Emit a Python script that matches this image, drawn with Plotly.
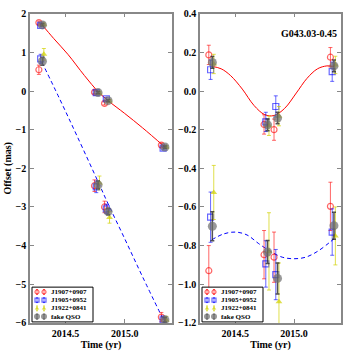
import plotly.graph_objects as go

# epochs (per calibrator, slightly staggered for clarity)
t_red = [2014.275, 2014.745, 2014.83, 2015.31]
t_blue = [2014.29, 2014.76, 2014.845, 2015.325]
t_yel = [2014.317, 2014.787, 2014.872, 2015.352]
t_qso = [2014.305, 2014.775, 2014.86, 2015.34]

# left panel: offsets (mas) for the two coordinates
left_red = [1.77, -0.03, -0.32, -1.40, 0.55, -2.45, -3.00, -5.85]
left_red_err = [0.04, 0.04, 0.04, 0.05, 0.12, 0.15, 0.15, 0.12]
left_blue = [1.70, -0.04, -0.20, -1.48, 0.83, -2.48, -3.05, -5.92]
left_blue_err = [0.04, 0.04, 0.04, 0.04, 0.12, 0.15, 0.12, 0.10]
left_yel = [1.72, -0.05, -0.26, -1.45, 0.95, -2.38, -3.27, -5.93]
left_yel_err = [0.04, 0.04, 0.04, 0.04, 0.15, 0.18, 0.15, 0.10]
left_qso = [1.71, -0.04, -0.25, -1.45, 0.77, -2.43, -3.12, -5.92]
left_qso_err = [0.03, 0.03, 0.03, 0.03, 0.10, 0.10, 0.08, 0.06]

# right panel: parallax-only offsets (mas)
right_red = [0.187, -0.173, -0.20, 0.175, -0.93, -0.847, -0.86, -0.597]
right_red_err = [0.05, 0.05, 0.055, 0.05, 0.13, 0.125, 0.13, 0.125]
right_blue = [0.11, -0.16, -0.08, 0.10, -0.653, -0.895, -0.95, -0.73]
right_blue_err = [0.05, 0.05, 0.055, 0.05, 0.13, 0.12, 0.13, 0.12]
right_yel = [0.14, -0.18, -0.13, 0.135, -0.525, -0.83, -1.09, -0.75]
right_yel_err = [0.05, 0.05, 0.05, 0.045, 0.14, 0.20, 0.20, 0.15]
right_qso = [0.148, -0.175, -0.14, 0.13, -0.70, -0.833, -0.97, -0.697]
right_qso_err = [0.03, 0.03, 0.03, 0.03, 0.075, 0.06, 0.08, 0.07]

# fitted model curves
fit_t_a = [2014.30, 2014.40, 2014.52, 2014.66, 2014.78, 2014.86, 2015.00, 2015.15, 2015.34]
fit_left_a = [1.72, 1.36, 0.95, 0.40, -0.03, -0.25, -0.58, -0.95, -1.45]
fit_t_b = [2014.30, 2014.45, 2014.60, 2014.78, 2014.86, 2015.00, 2015.15, 2015.34]
fit_left_b = [0.75, -0.20, -1.18, -2.38, -2.92, -3.82, -4.80, -6.00]
fit_t_ra = [2014.30, 2014.38, 2014.46, 2014.56, 2014.66, 2014.75, 2014.83, 2014.92,
            2015.02, 2015.11, 2015.20, 2015.28, 2015.34]
fit_right_a = [0.128, 0.115, 0.08, 0.01, -0.075, -0.122, -0.127, -0.09, -0.01, 0.065,
               0.115, 0.13, 0.127]
fit_t_rb = [2014.30, 2014.40, 2014.50, 2014.60, 2014.70, 2014.80, 2014.90, 2015.00,
            2015.10, 2015.20, 2015.30, 2015.34]
fit_right_b = [-0.77, -0.74, -0.73, -0.745, -0.79, -0.83, -0.86, -0.868, -0.86, -0.83,
               -0.785, -0.765]

labels = ["J1907+0907", "J1905+0952", "J1922+0841", "fake QSO"]
FONT = "Liberation Serif"
W, H = 345, 354

series = [
    (t_red, left_red, left_red_err, right_red, right_red_err,
     dict(symbol="circle-open", size=6, color="rgba(255,0,0,0.6)", line=dict(width=1.2)), "rgba(255,0,0,0.6)", 1),
    (t_blue, left_blue, left_blue_err, right_blue, right_blue_err,
     dict(symbol="square-open", size=6, color="rgba(0,0,255,0.6)", line=dict(width=1.2)), "rgba(0,0,255,0.6)", 1),
    (t_yel, left_yel, left_yel_err, right_yel, right_yel_err,
     dict(symbol="triangle-up", size=6, color="rgba(210,210,0,0.7)"), "rgba(210,210,0,0.7)", 1),
    (t_qso, left_qso, left_qso_err, right_qso, right_qso_err,
     dict(symbol="circle", size=9, color="rgba(110,110,110,0.7)"), "rgba(40,40,40,0.8)", 1.5),
]

fig = go.Figure()

# model curves
fig.add_trace(go.Scatter(x=fit_t_a, y=fit_left_a, mode="lines", line=dict(color="red", width=1, shape="spline"),
                         showlegend=False, xaxis="x", yaxis="y"))
fig.add_trace(go.Scatter(x=fit_t_b, y=fit_left_b, mode="lines",
                         line=dict(color="blue", width=1, dash="4px,3px", shape="spline"),
                         showlegend=False, xaxis="x", yaxis="y"))
fig.add_trace(go.Scatter(x=fit_t_ra, y=fit_right_a, mode="lines", line=dict(color="red", width=1, shape="spline"),
                         showlegend=False, xaxis="x2", yaxis="y2"))
fig.add_trace(go.Scatter(x=fit_t_rb, y=fit_right_b, mode="lines",
                         line=dict(color="blue", width=1, dash="4px,3px", shape="spline"),
                         showlegend=False, xaxis="x2", yaxis="y2"))

for i, (t, ly, le, ry, re, mk, ec, th) in enumerate(series):
    tt = t + t
    fig.add_trace(go.Scatter(
        x=tt, y=ly, mode="markers", marker=mk, showlegend=False,
        error_y=dict(type="data", array=le, color=ec, thickness=th, width=2),
        xaxis="x", yaxis="y",
    ))
    fig.add_trace(go.Scatter(
        x=tt, y=ry, mode="markers", marker=mk, showlegend=False,
        error_y=dict(type="data", array=re, color=ec, thickness=th, width=2),
        xaxis="x2", yaxis="y2",
    ))

# matplotlib-style legends, drawn on a pixel overlay axis
annotations = []
for x0 in (32, 202):
    fig.add_trace(go.Scatter(
        x=[x0, x0 + 61, x0 + 61, x0, x0], y=[291, 291, 327, 327, 291], mode="lines",
        fill="toself", fillcolor="white", line=dict(color="black", width=1),
        showlegend=False, hoverinfo="skip", xaxis="x3", yaxis="y3",
    ))
    for j, (t, ly, le, ry, re, mk, ec, th) in enumerate(series):
        row_y = 296 + j * 8.5
        fig.add_trace(go.Scatter(
            x=[x0 + 5, x0 + 12], y=[row_y, row_y], mode="markers",
            marker=dict(mk, size=4 if j < 3 else 6),
            error_y=dict(type="constant", value=2.5, color=ec, thickness=1, width=1),
            showlegend=False, hoverinfo="skip", xaxis="x3", yaxis="y3",
        ))
        annotations.append(dict(
            text=labels[j], xref="x3", yref="y3", x=x0 + 17, y=row_y,
            xanchor="left", yanchor="middle", showarrow=False,
            font=dict(family=FONT, size=7, color="black", weight="bold"),
        ))

annotations.append(dict(
    text="G043.03-0.45", xref="x2 domain", yref="y2 domain", x=0.985, y=0.96,
    xanchor="right", yanchor="top", showarrow=False,
    font=dict(family=FONT, size=10, color="black", weight="bold"),
))

axis_style = dict(
    showline=True, linecolor="#888", linewidth=1.5, mirror="ticks",
    ticks="inside", ticklen=4, tickcolor="#888", showgrid=False, zeroline=False,
    tickfont=dict(family=FONT, size=10, color="black", weight="bold"),
)
title_font = dict(family=FONT, size=10, color="black", weight="bold")

fig.update_layout(
    width=W, height=H,
    margin=dict(l=0, r=0, t=0, b=0),
    plot_bgcolor="rgba(0,0,0,0)", paper_bgcolor="white",
    showlegend=False,
    xaxis=dict(domain=[30 / W, 172 / W], range=[2014.2, 2015.4], tickvals=[2014.5, 2015.0],
               ticktext=["2014.5", "2015.0"], anchor="y",
               title=dict(text="Time (yr)", font=title_font, standoff=1), **axis_style),
    yaxis=dict(domain=[1 - 328 / H, 1 - 8 / H], range=[-6, 2], dtick=1, anchor="x",
               title=dict(text="Offset (mas)", font=title_font, standoff=2), **axis_style),
    xaxis2=dict(domain=[200 / W, 341 / W], range=[2014.2, 2015.4], tickvals=[2014.5, 2015.0],
                ticktext=["2014.5", "2015.0"], anchor="y2",
                title=dict(text="Time (yr)", font=title_font, standoff=1), **axis_style),
    yaxis2=dict(domain=[1 - 328 / H, 1 - 8 / H], range=[-1.2, 0.4], dtick=0.2, tickformat=".1f",
                anchor="x2", **axis_style),
    xaxis3=dict(domain=[0, 1], range=[0, W], visible=False, fixedrange=True, anchor="y3"),
    yaxis3=dict(domain=[0, 1], range=[H, 0], visible=False, fixedrange=True, anchor="x3"),
    annotations=annotations,
)

fig.write_html("out.html", config={"displayModeBar": False},
               post_script="document.body.style.margin='0';document.body.style.overflow='hidden';")
